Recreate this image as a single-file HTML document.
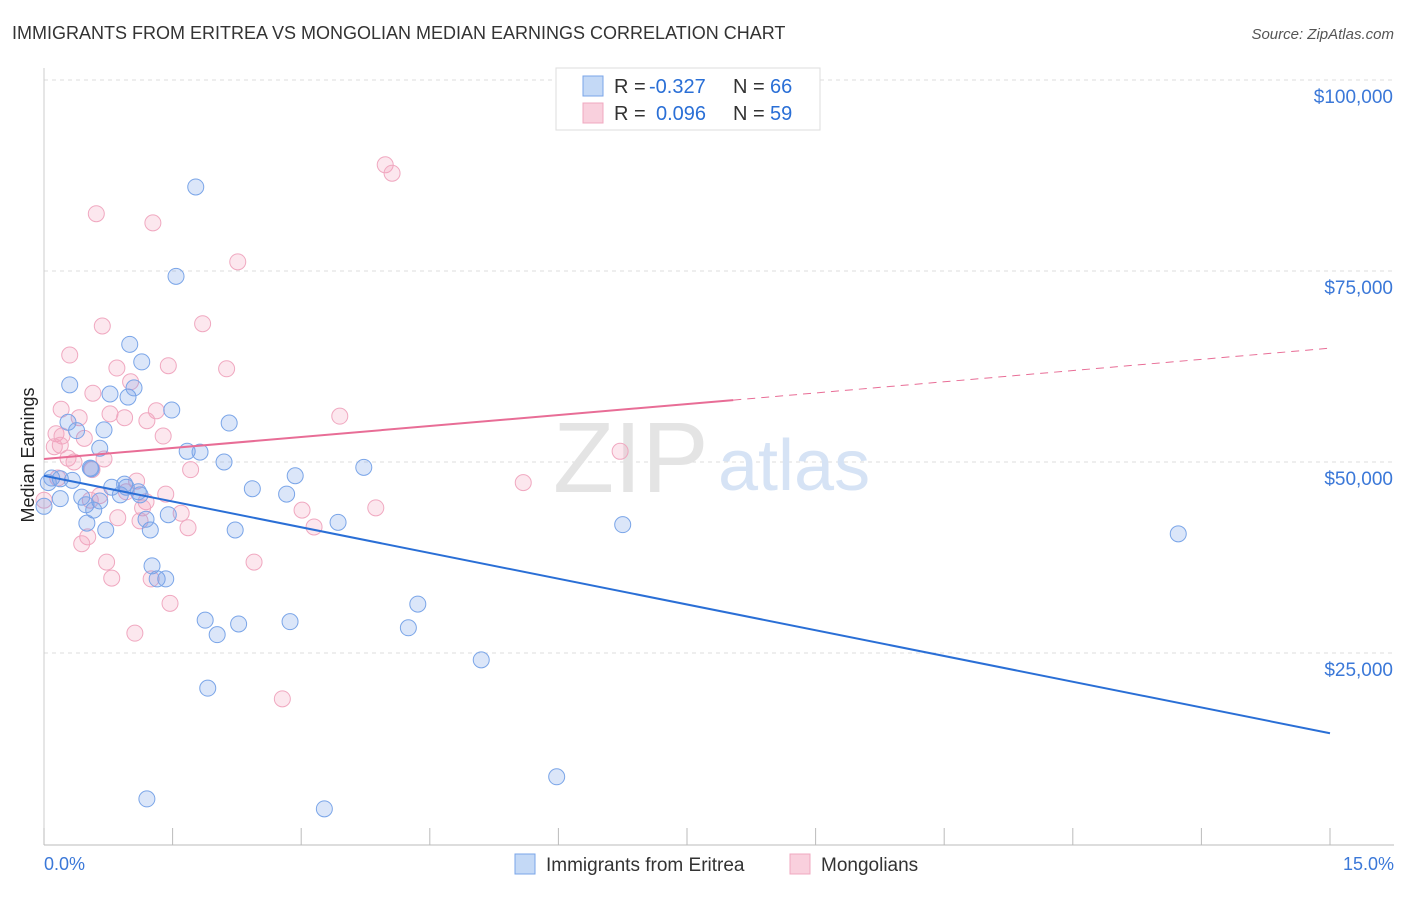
<!DOCTYPE html>
<html><head><meta charset="utf-8"><style>
body{margin:0;background:#fff;font-family:"Liberation Sans",sans-serif;}
svg text{font-family:"Liberation Sans",sans-serif;}
</style></head><body>
<svg width="1406" height="892" id="chart">
<text x="12" y="39" font-size="18" fill="#333">IMMIGRANTS FROM ERITREA VS MONGOLIAN MEDIAN EARNINGS CORRELATION CHART</text>
<text x="1394" y="39" font-size="15" fill="#555" font-style="italic" text-anchor="end">Source: ZipAtlas.com</text>
<text x="0" y="0" transform="translate(34,455) rotate(-90)" font-size="18" fill="#222" text-anchor="middle">Median Earnings</text>
<g id="grid"></g>
<text x="553" y="492" font-size="100" fill="#e4e4e4" font-family="Liberation Serif">ZIP</text>
<text x="718" y="490" font-size="72" fill="#d6e3f5">atlas</text>
<g id="pts"></g>
<g id="lines"></g>
<g>
<rect x="556" y="68" width="264" height="62" fill="#fff" stroke="#ddd"/>
<rect x="583" y="76" width="20" height="20" fill="#c4d9f6" stroke="#7aa5e8"/>
<rect x="583" y="103" width="20" height="20" fill="#f9d0dd" stroke="#f0a8c0"/>
<text x="614" y="93" font-size="20" fill="#333">R =</text>
<text x="649" y="93" font-size="20" fill="#2a6fd6">-0.327</text>
<text x="733" y="93" font-size="20" fill="#333">N =</text>
<text x="770" y="93" font-size="20" fill="#2a6fd6">66</text>
<text x="614" y="120" font-size="20" fill="#333">R =</text>
<text x="656" y="120" font-size="20" fill="#2a6fd6">0.096</text>
<text x="733" y="120" font-size="20" fill="#333">N =</text>
<text x="770" y="120" font-size="20" fill="#2a6fd6">59</text>
</g>
<text x="44" y="870" font-size="18" fill="#3b78d8">0.0%</text>
<text x="1394" y="870" font-size="18" fill="#3b78d8" text-anchor="end">15.0%</text>
<g>
<rect x="515" y="854" width="20" height="20" fill="#c4d9f6" stroke="#7aa5e8"/>
<text x="546" y="871" font-size="19" fill="#333">Immigrants from Eritrea</text>
<rect x="790" y="854" width="20" height="20" fill="#f9d0dd" stroke="#f0a8c0"/>
<text x="821" y="871" font-size="19" fill="#333">Mongolians</text>
</g>
</svg>
<script>
const yTicks=[25000,50000,75000,100000];
const yTickLabels=["$25,000","$50,000","$75,000","$100,000"];
const xTicks=[0,1.5,3,4.5,6,7.5,9,10.5,12,13.5,15];
const blueX=[1.77,1.54,1.00,1.14,0.30,0.77,0.98,1.05,1.49,0.28,2.16,0.70,0.38,0.65,1.67,1.82,2.10,3.73,2.93,0.09,0.19,0.33,0.54,0.96,1.10,0.89,2.43,2.83,0.44,0.65,0.49,0.58,0.19,1.45,0.50,3.43,6.75,13.23,2.23,1.24,0.72,1.19,1.26,1.32,1.42,4.36,1.88,2.87,2.27,4.25,2.02,5.10,1.91,5.98,1.20,3.27,1.12,0.79,0.94,0.05,0.55,0.0];
const blueY=[86.0,74.3,65.4,63.1,60.1,58.9,58.5,59.7,56.8,55.2,55.1,54.2,54.1,51.8,51.4,51.3,50.0,49.3,48.2,47.9,47.8,47.6,49.2,46.7,46.1,45.7,46.5,45.8,45.4,44.9,44.4,43.7,45.2,43.1,42.0,42.1,41.8,40.6,41.1,41.1,41.1,42.5,36.4,34.7,34.7,31.4,29.3,29.1,28.8,28.3,27.4,24.1,20.4,8.8,5.9,4.6,45.7,46.7,47.1,47.3,49.1,44.2];
const pinkX=[3.98,4.06,0.61,1.27,2.26,0.68,1.85,0.30,1.45,2.13,0.85,1.01,0.57,0.20,0.77,0.94,0.41,1.31,1.20,3.45,0.14,1.39,0.47,0.21,0.12,0.28,6.72,0.70,0.35,0.56,1.71,0.16,5.59,1.08,1.42,0.96,0.54,1.19,3.01,3.87,1.15,1.60,0.86,1.12,3.15,1.68,0.51,0.44,2.45,0.73,0.79,1.25,1.47,1.06,2.78,0.0,0.19,0.65];
const pinkY=[88.9,87.8,82.5,81.3,76.2,67.8,68.1,64.0,62.6,62.2,62.3,60.5,59.0,56.9,56.3,55.8,55.8,56.7,55.4,56.0,53.7,53.4,53.1,53.4,52.0,50.5,51.4,50.4,50.0,49.0,49.0,47.9,47.3,47.5,45.8,46.1,45.0,44.8,43.7,44.0,44.0,43.3,42.7,42.3,41.5,41.4,40.2,39.3,36.9,36.9,34.8,34.7,31.5,27.6,19.0,45.0,52.2,45.6];
const blueLine=[[0,48200],[15,14500]];
const pinkLine=[[0,50400],[8.04,58100],[15,64900]];
const NS="http://www.w3.org/2000/svg";
const X=v=>44+v/15*1286;
const Y=v=>844-v/100000*764;
function el(t,a,p){const e=document.createElementNS(NS,t);for(const k in a)e.setAttribute(k,a[k]);document.getElementById(p).appendChild(e);return e;}
yTicks.forEach((t,i)=>{
 const g=el('line',{x1:44,x2:1394,y1:Y(t),y2:Y(t),stroke:'#ddd','stroke-dasharray':'4,4'},'grid');
 
 
 const tx=el('text',{x:1393,y:Y(t)+23,'font-size':19,fill:'#3b78d8','text-anchor':'end'},'grid');
 tx.textContent=yTickLabels[i];
 
 
});
const ax=el('line',{x1:44,x2:1394,y1:845,y2:845,stroke:'#bbb'},'grid');


const ay=el('line',{x1:44,x2:44,y1:68,y2:845,stroke:'#ccc'},'grid');


xTicks.forEach(t=>{
 const l=el('line',{x1:X(t),x2:X(t),y1:828,y2:845,stroke:'#bbb'},'grid');
 
 
});
pinkX.forEach((x,i)=>{
 const c=el('circle',{cx:X(x),cy:Y(pinkY[i]*1000),r:8,fill:'rgba(242,160,188,0.25)',stroke:'#f0a8c0','stroke-width':1},'pts');
 
 
});
blueX.forEach((x,i)=>{
 const c=el('circle',{cx:X(x),cy:Y(blueY[i]*1000),r:8,fill:'rgba(110,155,230,0.25)',stroke:'#7aa5e8','stroke-width':1},'pts');
 
 
});
const bl=el('line',{x1:X(blueLine[0][0]),y1:Y(blueLine[0][1]),x2:X(blueLine[1][0]),y2:Y(blueLine[1][1]),stroke:'#2a6fd6','stroke-width':2},'lines');


const pl=el('line',{x1:X(pinkLine[0][0]),y1:Y(pinkLine[0][1]),x2:X(pinkLine[1][0]),y2:Y(pinkLine[1][1]),stroke:'#e86d96','stroke-width':2},'lines');


const pd=el('line',{x1:X(pinkLine[1][0]),y1:Y(pinkLine[1][1]),x2:X(pinkLine[2][0]),y2:Y(pinkLine[2][1]),stroke:'#e86d96','stroke-width':1,'stroke-dasharray':'8,6'},'lines');


</script>
</body></html>
